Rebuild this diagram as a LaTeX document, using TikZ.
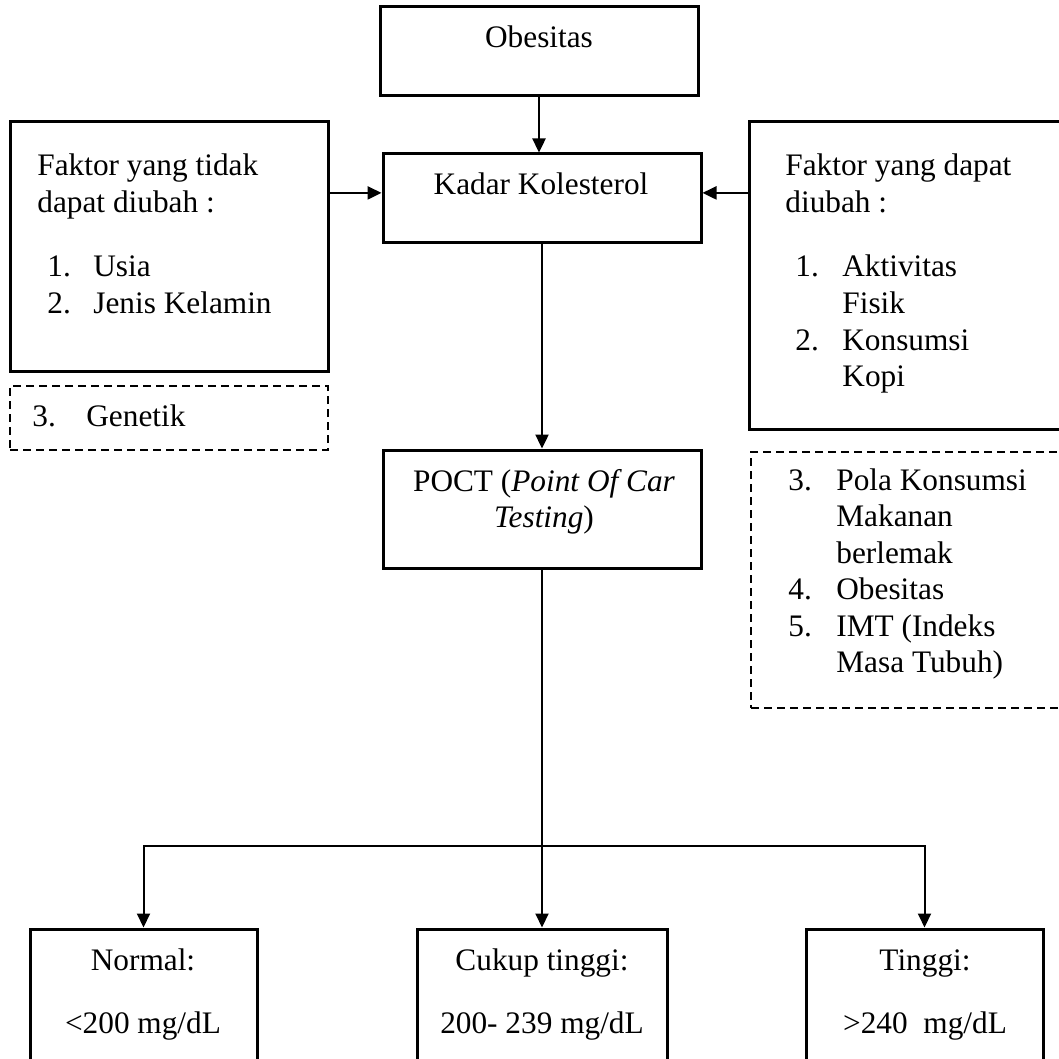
\documentclass[tikz,border=0pt]{standalone}
\usepackage{fontspec}
\setmainfont{Liberation Serif}
\usetikzlibrary{arrows.meta,fit}

\tikzset{
  kotak/.style={draw, line width=1.5pt, inner sep=0pt},
  kotakputus/.style={draw, line width=0.7pt, dash pattern=on 4pt off 2.5pt, inner sep=0pt},
  teks/.style={inner sep=0pt, font=\fontsize{15.65}{18.25}\selectfont},
  panah/.style={line width=1.2pt, -{Triangle[length=7pt,width=6.5pt]}},
  panahtipis/.style={line width=1pt, -{Triangle[length=7pt,width=6.5pt]}},
}

\begin{document}
\begin{tikzpicture}[x=0.5pt,y=-0.5pt]
\useasboundingbox (0,0) rectangle (1059,1059);
\clip (0,0) rectangle (1059,1059);
% kotak
\node[kotak, fit={(380,7) (698,96)}] (obes) {};
\node[kotak, fit={(383,154) (701,243)}] (kadar) {};
\node[kotak, fit={(10,122) (328,371)}] (tetap) {};
\node[kotakputus, fit={(10,386) (328,450)}] (tetapx) {};
\node[kotak, fit={(749,122) (1075,429)}] (ubah) {};
\node[kotakputus, fit={(751,452) (1075,708)}] (ubahx) {};
\node[kotak, fit={(383,450) (701,568)}] (poct) {};
\node[kotak, fit={(30,929) (257,1080)}] (normal) {};
\node[kotak, fit={(417,929) (667,1080)}] (cukup) {};
\node[kotak, fit={(806,929) (1043,1080)}] (tinggi) {};
% teks
\node[teks, anchor=base] (obes-t) at (539,48) {Obesitas};
\node[teks, anchor=base] (kadar-t) at (541,195) {Kadar Kolesterol};
\node[teks, anchor=base] (poct-t) at (544,491) {\begin{tabular}[t]{@{}c@{}}POCT (\textit{Point Of Car}\\\textit{Testing})\end{tabular}};
\node[teks, anchor=base west] (tetap-t) at (37,176) {\begin{tabular}[t]{@{}l@{}}Faktor yang tidak\\dapat diubah :\end{tabular}};
\node[teks, anchor=base west] (tetap-l) at (47,277) {\begin{tabular}[t]{@{}p{23pt}@{}l@{}}1. & Usia\\2. & Jenis Kelamin\end{tabular}};
\node[teks, anchor=base west] (tetapx-l) at (32,426) {\begin{tabular}[t]{@{}p{27pt}@{}l@{}}3. & Genetik\end{tabular}};
\node[teks, anchor=base west] (ubah-t) at (785,176) {\begin{tabular}[t]{@{}l@{}}Faktor yang dapat\\diubah :\end{tabular}};
\node[teks, anchor=base west] (ubah-l) at (795,277) {\begin{tabular}[t]{@{}p{23.5pt}@{}l@{}}1. & Aktivitas\\ & Fisik\\2. & Konsumsi\\ & Kopi\end{tabular}};
\node[teks, anchor=base west] (ubahx-l) at (788,490) {\begin{tabular}[t]{@{}p{24pt}@{}l@{}}3. & Pola Konsumsi\\ & Makanan\\ & berlemak\\4. & Obesitas\\5. & IMT (Indeks\\ & Masa Tubuh)\end{tabular}};
\node[teks, anchor=base] (normal-t) at (143,970) {\begin{tabular}[t]{@{}c@{}}Normal:\\[13.25pt]<200 mg/dL\end{tabular}};
\node[teks, anchor=base] (cukup-t) at (542,970) {\begin{tabular}[t]{@{}c@{}}Cukup tinggi:\\[13.25pt]200- 239 mg/dL\end{tabular}};
\node[teks, anchor=base] (tinggi-t) at (925,970) {\begin{tabular}[t]{@{}c@{}}Tinggi:\\[13.25pt]>240~ mg/dL\end{tabular}};
% panah
\draw[panah] (obes.south) -- (obes.south |- kadar.north);
\draw[panah] (kadar.178 -| tetap.east) -- (kadar.178);
\draw[panah] (kadar.2 -| ubah.west) -- (kadar.2);
\draw[panah] (kadar.south) -- (kadar.south |- poct.north);
\coordinate (cabang) at (poct.south |- 0,846);
\draw[line width=1pt] (poct.south) -- (cabang);
\draw[panahtipis] (cabang) -- (cukup.north);
\draw[panahtipis] (cabang) -| (normal.north);
\draw[panahtipis] (cabang) -| (tinggi.north);
\end{tikzpicture}
\end{document}
